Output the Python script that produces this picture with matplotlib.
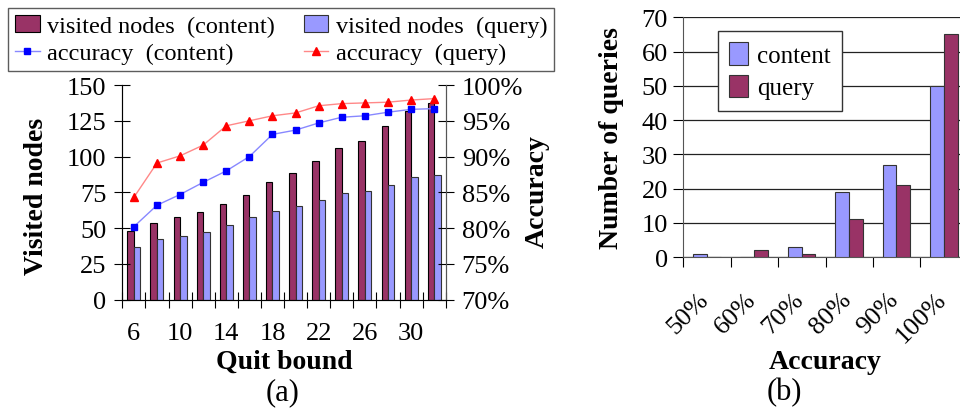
import numpy as np
import matplotlib
matplotlib.use("Agg")
import matplotlib.pyplot as plt
from matplotlib.ticker import FuncFormatter

plt.rcParams['font.family'] = ['Liberation Serif', 'DejaVu Serif']

# (a) quit bound experiment
quit_bound = [6, 8, 10, 12, 14, 16, 18, 20, 22, 24, 26, 28, 30, 32]
visited_content = [48, 53.6, 57.6, 61, 66.6, 73, 82.2, 88.5, 96.7, 106.2, 111.1, 121.2, 132.1, 137.5]
visited_query = [36.6, 42.2, 44.3, 47.3, 52.4, 57.6, 61.8, 65.5, 69.9, 74.3, 76.2, 79.9, 85.5, 87.4]
acc_content = [80.2, 83.2, 84.7, 86.4, 88.0, 90.0, 93.1, 93.7, 94.7, 95.5, 95.7, 96.2, 96.6, 96.7]
acc_query = [84.3, 89.1, 90.1, 91.6, 94.3, 95.0, 95.7, 96.1, 97.1, 97.4, 97.5, 97.6, 97.9, 98.1]

# (b) accuracy distribution
acc_bins = ["50%", "60%", "70%", "80%", "90%", "100%"]
n_content = [1, 0, 3, 19, 27, 50]
n_query = [0, 2, 1, 11, 21, 65]

maroon = "#993366"
lblue = "#9999FF"
fs = 19
W, H = 960.0, 410.0


def fx(px):
    return px / W


def fy(py):
    return 1 - py / H


fig = plt.figure(figsize=(9.6, 4.1), dpi=100)

# ---- chart (a)
ax = fig.add_axes([0.1274, 0.2666, 0.3369, 0.5236])
x = np.arange(len(quit_bound))
w = 0.28
b1 = ax.bar(x - 0.14, visited_content, w, color=maroon, edgecolor="black", linewidth=0.8)
b2 = ax.bar(x + 0.14, visited_query, w, color=lblue, edgecolor="#333333", linewidth=0.8)
ax.set_xlim(-0.5, len(x) - 0.5)
ax.set_ylim(0, 150)
ax.set_yticks(np.arange(0, 151, 25))
ax.set_xticks(x[::2])
ax.set_xticklabels([str(q) for q in quit_bound[::2]])
ax.set_xticks(np.arange(-0.5, len(x), 1), minor=True)
ax.tick_params(axis='x', which='major', length=0, labelsize=fs, pad=16)
ax.tick_params(axis='x', which='minor', direction='inout', length=11, width=0.8)
ax.tick_params(axis='y', direction='inout', length=11, width=0.8, labelsize=fs, pad=6)
ax.spines['top'].set_visible(False)
for s in ['left', 'bottom', 'right']:
    ax.spines[s].set_color("#555555")

ax2 = ax.twinx()
l1, = ax2.plot(x, acc_content, color="#8888FF", marker="s", markersize=5, linewidth=1,
               markerfacecolor="#0000FF", markeredgecolor="#0000FF")
l2, = ax2.plot(x, acc_query, color="#FF8888", marker="^", markersize=5.5, linewidth=1,
               markerfacecolor="#FF0000", markeredgecolor="#FF0000")
ax2.set_ylim(70, 100)
ax2.set_yticks(np.arange(70, 101, 5))
ax2.yaxis.set_major_formatter(FuncFormatter(lambda v, p: "%d%%" % v))
ax2.tick_params(axis='y', direction='inout', length=11, width=0.8, labelsize=fs, pad=6)
ax2.spines['top'].set_visible(False)
ax2.spines['right'].set_color("#555555")

fig.text(fx(37), fy(196), "Visited nodes", fontsize=20, fontweight='bold',
         rotation=90, ha='center', va='center')
fig.text(fx(537), fy(192), "Accuracy", fontsize=20, fontweight='bold',
         rotation=90, ha='center', va='center')
fig.text(fx(284), fy(362), "Quit bound", fontsize=20, fontweight='bold',
         ha='center', va='center')

leg = fig.legend([b1, l1, b2, l2],
                 ["visited nodes  (content)", "accuracy  (content)",
                  "visited nodes  (query)", "accuracy  (query)"],
                 ncol=2, loc='upper left', bbox_to_anchor=(fx(8), fy(9)),
                 fontsize=17.5, frameon=True, fancybox=False, borderaxespad=0,
                 handlelength=1.0, handletextpad=0.3, columnspacing=1.2,
                 labelspacing=0.2, borderpad=0.3)
leg.get_frame().set_edgecolor("#333333")
leg.get_frame().set_linewidth(1.0)

fig.text(fx(283), fy(393), "(a)", fontsize=22, ha='center', va='center')

# ---- chart (b)
bx = fig.add_axes([0.7118, 0.3707, 0.2963, 0.5847])
xb = np.arange(len(acc_bins))
bw = 0.29
c1 = bx.bar(xb - 0.15, n_content, bw, color=lblue, edgecolor="#333333", linewidth=0.8,
            label="content", zorder=3)
c2 = bx.bar(xb + 0.14, n_query, bw, color=maroon, edgecolor="#333333", linewidth=0.8,
            label="query", zorder=3)
bx.set_xlim(-0.5, len(xb) - 0.5)
bx.set_ylim(0, 70)
bx.set_yticks(np.arange(0, 71, 10))
bx.grid(axis='y', color="#222222", linewidth=0.9, zorder=0)
# labels sit a little left of the category centres, as in the original
bx.set_xticks(xb - 0.2)
bx.set_xticklabels(acc_bins, rotation=45, ha='right', rotation_mode='anchor')
bx.set_xticks(np.arange(-0.5, len(xb), 1), minor=True)
bx.tick_params(axis='x', which='major', length=0, labelsize=fs, pad=22)
bx.tick_params(axis='x', which='minor', direction='out', length=7, width=0.8)
bx.tick_params(axis='y', direction='out', length=7, width=0.8, labelsize=fs, pad=4)
bx.spines['top'].set_visible(False)
bx.spines['right'].set_visible(False)
bx.spines['left'].set_color("#555555")
bx.spines['bottom'].set_color("#555555")

fig.text(fx(612), fy(138), "Number of queries", fontsize=20, fontweight='bold',
         rotation=90, ha='center', va='center')
fig.text(fx(825), fy(363), "Accuracy", fontsize=20, fontweight='bold',
         ha='center', va='center')

lg = bx.legend(loc='upper left', bbox_to_anchor=(fx(718), fy(32)),
               bbox_transform=fig.transFigure, fontsize=18, frameon=True, fancybox=False,
               borderaxespad=0, handlelength=0.75, handleheight=1.0, handletextpad=0.35,
               labelspacing=0.3, borderpad=0.45, framealpha=1)
lg.get_frame().set_edgecolor("#333333")
lg.get_frame().set_linewidth(1.0)

fig.text(fx(784), fy(393), "(b)", fontsize=22, ha='center', va='center')

fig.savefig("out.png", dpi=100)
